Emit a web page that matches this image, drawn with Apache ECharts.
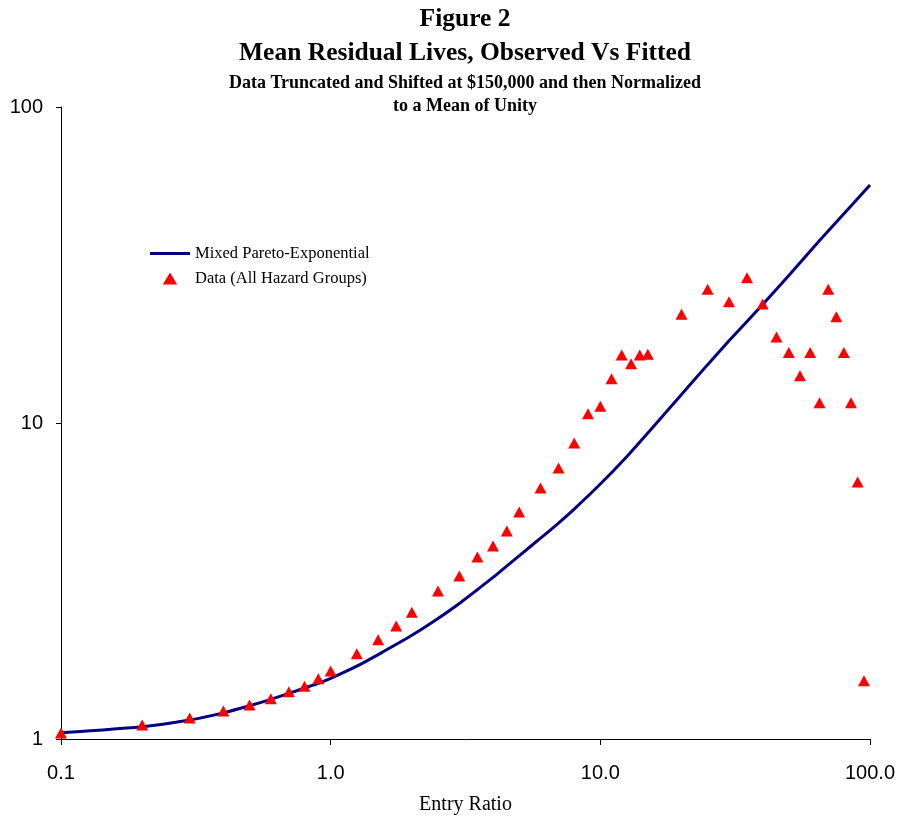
<!DOCTYPE html>
<html>
<head>
<meta charset="utf-8">
<script src="https://cdn.jsdelivr.net/npm/echarts@6/dist/echarts.min.js"></script>
<style>
  html, body { margin: 0; padding: 0; background: #fff; }
  #chart { width: 901px; height: 816px; }
</style>
</head>
<body>
<div id="chart"></div>
<script>
// fitted curve (Mixed Pareto-Exponential)
const fitX = [0.1, 0.2, 0.3, 0.4, 0.5, 0.6, 0.7, 0.8, 0.9, 1.0, 1.25, 1.5, 2, 2.5, 3, 4, 5, 6, 7, 8, 10, 12.5, 15, 20, 25, 30, 40, 50, 65, 85, 100];
const fitY = [1.046, 1.094, 1.148, 1.21, 1.274, 1.335, 1.394, 1.45, 1.5, 1.555, 1.7, 1.85, 2.129, 2.407, 2.685, 3.246, 3.8, 4.32, 4.825, 5.34, 6.41, 7.81, 9.3, 12.3, 15.3, 18.2, 23.7, 29.3, 37.8, 48.6, 56.6];

// observed (All Hazard Groups)
const obsX = [0.1, 0.2, 0.3, 0.4, 0.5, 0.6, 0.7, 0.8, 0.9, 1.0, 1.25, 1.5, 1.75, 2, 2.5, 3, 3.5, 4, 4.5, 5, 6, 7, 8, 9, 10, 11, 12, 13, 14, 15, 20, 25, 30, 35, 40, 45, 50, 55, 60, 65, 70, 75, 80, 85, 90, 95];
const obsY = [1.045, 1.107, 1.165, 1.226, 1.28, 1.34, 1.41, 1.47, 1.55, 1.64, 1.86, 2.06, 2.28, 2.52, 2.94, 3.28, 3.77, 4.08, 4.55, 5.23, 6.23, 7.2, 8.65, 10.7, 11.3, 13.8, 16.4, 15.4, 16.4, 16.5, 22.1, 26.5, 24.2, 28.8, 23.8, 18.7, 16.7, 14.1, 16.7, 11.6, 26.5, 21.7, 16.7, 11.6, 6.5, 1.53];

const chart = echarts.init(document.getElementById('chart'));
const serif = '"Liberation Serif", "Times New Roman", serif';
const sans = '"Liberation Sans", Arial, sans-serif';

chart.setOption({
  animation: false,
  title: [
    {
      text: 'Figure 2\nMean Residual Lives, Observed Vs Fitted',
      left: 465, top: 2, padding: 0, textAlign: 'center',
      textStyle: { fontFamily: serif, fontWeight: 'bold', fontSize: 25.5, lineHeight: 34, color: '#000' }
    },
    {
      text: 'Data Truncated and Shifted at $150,000 and then Normalized\nto a Mean of Unity',
      left: 465, top: 72, padding: 0, textAlign: 'center',
      textStyle: { fontFamily: serif, fontWeight: 'bold', fontSize: 18, lineHeight: 23, color: '#000' }
    }
  ],
  legend: {
    orient: 'vertical',
    left: 145, top: 240,
    itemWidth: 40, itemHeight: 12, itemGap: 8,
    textStyle: { fontFamily: serif, fontSize: 16.5, color: '#000' },
    data: [
      { name: 'Mixed Pareto-Exponential', icon: 'path://M0,0 L40,0 L40,3 L0,3 Z', itemStyle: { color: '#000080' } },
      { name: 'Data (All Hazard Groups)', icon: 'path://M6,0 L12,10 L0,10 Z' }
    ]
  },
  grid: { left: 61, right: 31, top: 107, bottom: 77, containLabel: false, outerBoundsMode: 'none' },
  xAxis: {
    type: 'log', logBase: 10, min: 0.1, max: 100,
    name: 'Entry Ratio', nameLocation: 'middle', nameGap: 56,
    nameTextStyle: { fontFamily: serif, fontSize: 20, color: '#000' },
    axisLine: { lineStyle: { color: '#000', width: 1 } },
    axisTick: { show: true, length: 6, lineStyle: { color: '#000' } },
    axisLabel: { fontFamily: sans, fontSize: 20, color: '#000', margin: 24, formatter: v => Number(v).toFixed(1) },
    splitLine: { show: false },
    minorTick: { show: false }
  },
  yAxis: {
    type: 'log', logBase: 10, min: 1, max: 100,
    axisLine: { show: true, lineStyle: { color: '#000', width: 1 } },
    axisTick: { show: true, length: 5, lineStyle: { color: '#000' } },
    axisLabel: { fontFamily: sans, fontSize: 20, color: '#000', margin: 18, formatter: v => String(Math.round(v)) },
    splitLine: { show: false }
  },
  series: [
    {
      name: 'Mixed Pareto-Exponential',
      type: 'line',
      data: fitX.map((x, i) => [x, fitY[i]]),
      smooth: 0.2,
      symbol: 'none',
      lineStyle: { color: '#000080', width: 3 },
      itemStyle: { color: '#000080' },
      z: 2
    },
    {
      name: 'Data (All Hazard Groups)',
      type: 'scatter',
      data: obsX.map((x, i) => [x, obsY[i]]),
      symbol: 'triangle',
      symbolSize: [12, 11],
      clip: false,
      itemStyle: { color: '#ff0000', opacity: 1 },
      z: 3
    }
  ]
});
</script>
</body>
</html>
